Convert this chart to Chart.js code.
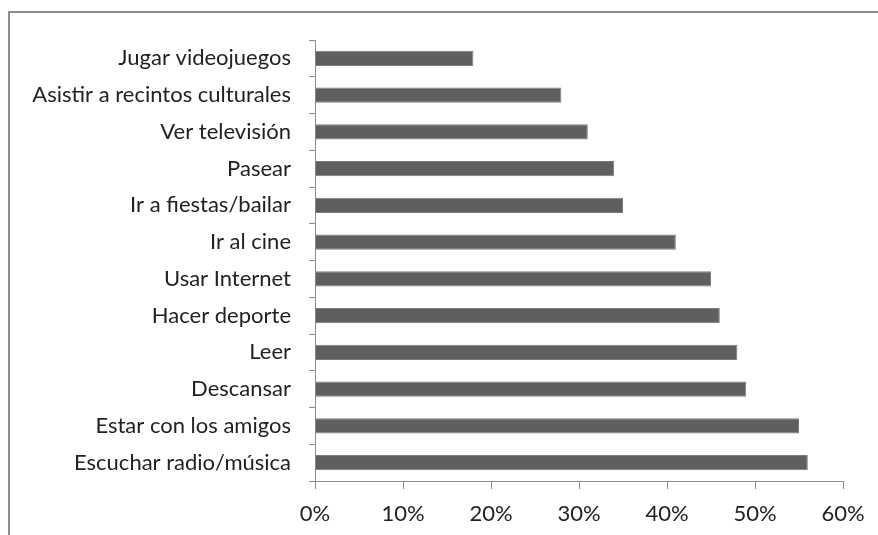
<!DOCTYPE html>
<html>
<head>
<meta charset="utf-8">
<script src="https://cdn.jsdelivr.net/npm/chart.js@4"></script>
<style>
  html, body { margin: 0; padding: 0; background: #fff; overflow: hidden; }
  #wrap { position: relative; width: 878px; height: 535px; overflow: hidden; }
  #frame {
    position: absolute; left: 8px; top: 11px; right: 0; bottom: 0;
    border-left: 2px solid #8c8c8c; border-top: 2px solid #8c8c8c;
  }
  #chart { position: absolute; left: 0; top: 0; }
</style>
</head>
<body>
<div id="wrap">
  <div id="frame"></div>
  <canvas id="chart" width="878" height="535"></canvas>
</div>
<script>
const categories = [
  "Jugar videojuegos",
  "Asistir a recintos culturales",
  "Ver televisión",
  "Pasear",
  "Ir a fiestas/bailar",
  "Ir al cine",
  "Usar Internet",
  "Hacer deporte",
  "Leer",
  "Descansar",
  "Estar con los amigos",
  "Escuchar radio/música"
];
const percentages = [18, 28, 31, 34, 35, 41, 45, 46, 48, 49, 55, 56];
const xTicks = [0, 10, 20, 30, 40, 50, 60];

const ctx = document.getElementById("chart").getContext("2d");
new Chart(ctx, {
  type: "bar",
  data: {
    labels: categories,
    datasets: [
      {
        data: percentages,
        backgroundColor: "#5f5f5f",
        borderColor: "#7c7c7c",
        borderWidth: 1,
        barPercentage: 0.41,
        categoryPercentage: 1.0,
      },
    ],
  },
  options: {
    indexAxis: "y",
    responsive: false,
    animation: false,
    layout: { padding: { top: 40, right: 35, bottom: 0, left: 0 } },
    plugins: {
      legend: { display: false },
      tooltip: { enabled: false },
    },
    scales: {
      x: {
        min: 0,
        max: 60,
        afterBuildTicks: (scale) => {
          scale.ticks = xTicks.map((v) => ({ value: v }));
        },
        afterFit: (scale) => {
          scale.height = 54;
        },
        grid: {
          drawOnChartArea: false,
          drawTicks: true,
          tickLength: 8,
          color: "#8c8c8c",
        },
        border: { color: "#8c8c8c", width: 1 },
        ticks: {
          color: "#222",
          font: { family: "Lato", size: 22 },
          padding: 12,
          callback: (v) => v + "%",
        },
      },
      y: {
        afterFit: (scale) => {
          scale.width = 315;
        },
        grid: {
          drawOnChartArea: false,
          drawTicks: true,
          tickLength: 6,
          color: "#8c8c8c",
        },
        border: { color: "#8c8c8c", width: 1 },
        ticks: {
          color: "#222",
          font: { family: "Lato", size: 22 },
          padding: 18,
        },
      },
    },
  },
});
</script>
</body>
</html>
